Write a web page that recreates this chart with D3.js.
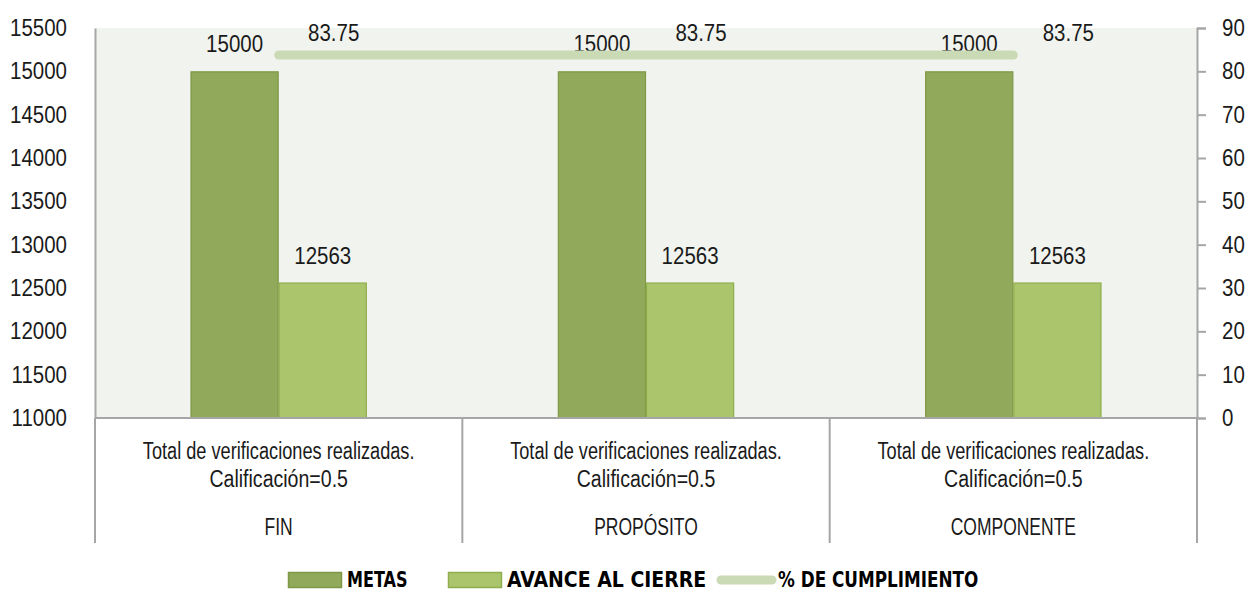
<!DOCTYPE html>
<html>
<head>
<meta charset="utf-8">
<script src="https://cdn.jsdelivr.net/npm/d3@7"></script>
<style>
  html, body { margin: 0; padding: 0; background: #ffffff; }
  svg { display: block; }
  .num { font-family: "Liberation Sans", Arial, sans-serif; font-size: 23px; fill: #1a1a1a; }
  .cat { font-family: "Liberation Sans", Arial, sans-serif; font-size: 23px; fill: #1a1a1a; }
  .leg { font-family: "DejaVu Sans Condensed", "DejaVu Sans", sans-serif; font-weight: bold; font-size: 21px; fill: #000; }
</style>
</head>
<body>
<svg id="chart" width="1248" height="591"></svg>
<script>
// ---- data ----
const groups = ["FIN", "PROPÓSITO", "COMPONENTE"];
const subLabelLine1 = ["Total de verificaciones realizadas.", "Total de verificaciones realizadas.", "Total de verificaciones realizadas."];
const subLabelLine2 = ["Calificación=0.5", "Calificación=0.5", "Calificación=0.5"];
const seriesNames = ["METAS", "AVANCE AL CIERRE", "% DE CUMPLIMIENTO"];
const metas = [15000, 15000, 15000];
const avance = [12563, 12563, 12563];
const cumplimiento = [83.75, 83.75, 83.75];
const leftTicks = [11000, 11500, 12000, 12500, 13000, 13500, 14000, 14500, 15000, 15500];
const rightTicks = [0, 10, 20, 30, 40, 50, 60, 70, 80, 90];

// ---- layout ----
const plot = { left: 95, right: 1197, top: 28, bottom: 418 };
const colors = { metas: "#91a95a", metasStroke: "#7e9845", avance: "#abc56c", avanceStroke: "#8fae4c", line: "#c9dab4", bg: "#f1f4ee", axis: "#a6a6a6" };

// horizontally condense text to mimic a condensed typeface
function condense(sel, sx) {
  sel.each(function (d) {
    const f = typeof sx === "function" ? sx(d) : sx;
    const L = this.getComputedTextLength();
    this.setAttribute("textLength", (L * f).toFixed(2));
    this.setAttribute("lengthAdjust", "spacingAndGlyphs");
  });
}

const svg = d3.select("#chart");

const x0 = d3.scaleBand().domain(groups).range([plot.left, plot.right]).paddingInner(0).paddingOuter(0);
const bw = x0.bandwidth();
const x1 = d3.scaleBand().domain(seriesNames.slice(0, 2)).range([bw * 0.26, bw * 0.74]).padding(0);
const yL = d3.scaleLinear().domain([11000, 15500]).range([plot.bottom, plot.top]);
const yR = d3.scaleLinear().domain([0, 90]).range([plot.bottom, plot.top]);

// plot background
svg.append("rect")
  .attr("x", plot.left).attr("y", plot.top)
  .attr("width", plot.right - plot.left).attr("height", plot.bottom - plot.top)
  .attr("fill", colors.bg);

// bars
const rows = groups.map((g, i) => ({ g, i, vals: [
  { s: seriesNames[0], v: metas[i], fill: colors.metas, stroke: colors.metasStroke },
  { s: seriesNames[1], v: avance[i], fill: colors.avance, stroke: colors.avanceStroke }
]}));

const gg = svg.append("g").selectAll("g").data(rows).join("g")
  .attr("transform", d => `translate(${x0(d.g)},0)`);

gg.selectAll("rect").data(d => d.vals).join("rect")
  .attr("x", d => x1(d.s) + 0.5)
  .attr("y", d => yL(d.v) + 0.5)
  .attr("width", x1.bandwidth() - 1)
  .attr("height", d => yL.range()[0] - yL(d.v) - 0.5)
  .attr("fill", d => d.fill)
  .attr("stroke", d => d.stroke)
  .attr("stroke-width", 1.2);

const valText = gg.selectAll("text.val").data(d => d.vals).join("text")
  .attr("class", "num val")
  .attr("x", d => x1(d.s) + x1.bandwidth() / 2)
  .attr("y", d => yL(d.v) - 19)
  .attr("text-anchor", "middle")
  .text(d => d.v);
condense(valText, 0.89);

// left axis
const axL = svg.append("g").attr("transform", `translate(${plot.left},0)`)
  .call(d3.axisLeft(yL).tickValues(leftTicks).tickSize(0).tickSizeOuter(0).tickPadding(28).tickFormat(d3.format("d")));
axL.select(".domain").attr("stroke", colors.axis).attr("stroke-width", 2);
axL.selectAll("text").attr("class", "num").attr("font-family", null).attr("font-size", null).attr("fill", null);
condense(axL.selectAll("text"), 0.89);

// right axis
const axR = svg.append("g").attr("transform", `translate(${plot.right},0)`)
  .call(d3.axisRight(yR).tickValues(rightTicks).tickSize(9).tickSizeOuter(9).tickPadding(16).tickFormat(d3.format("d")));
axR.select(".domain").attr("stroke", colors.axis).attr("stroke-width", 2);
axR.selectAll(".tick line").attr("stroke", colors.axis).attr("stroke-width", 2);
axR.selectAll("text").attr("class", "num").attr("font-family", null).attr("font-size", null).attr("fill", null);
condense(axR.selectAll("text"), 0.89);

// category axis
svg.append("line")
  .attr("x1", plot.left).attr("x2", plot.right)
  .attr("y1", plot.bottom).attr("y2", plot.bottom)
  .attr("stroke", colors.axis).attr("stroke-width", 2);

const sepBottom = 543;
const edges = groups.map(g => x0(g)).concat([x0(groups[groups.length - 1]) + bw]);
svg.append("g").selectAll("line").data(edges).join("line")
  .attr("x1", d => d).attr("x2", d => d)
  .attr("y1", plot.bottom).attr("y2", sepBottom)
  .attr("stroke", colors.axis).attr("stroke-width", 2);

const catG = svg.append("g").selectAll("g").data(groups).join("g")
  .attr("transform", d => `translate(${x0(d) + bw / 2},0)`);
const t1 = catG.append("text").attr("class", "cat").attr("text-anchor", "middle").attr("y", 459).text((d, i) => subLabelLine1[i]);
const t2 = catG.append("text").attr("class", "cat").attr("text-anchor", "middle").attr("y", 487).text((d, i) => subLabelLine2[i]);
const t3 = catG.append("text").attr("class", "cat").attr("text-anchor", "middle").attr("y", 535).text(d => d);
condense(t1, 0.79);
condense(t2, 0.85);
condense(t3, 0.76);

// line series
const linePts = groups.map((g, i) => ({ x: x0(g) + bw / 2, v: cumplimiento[i] }));
svg.append("path")
  .datum(linePts)
  .attr("d", d3.line().x(d => d.x).y(d => yR(d.v)))
  .attr("fill", "none")
  .attr("stroke", colors.line)
  .attr("stroke-width", 9)
  .attr("stroke-linecap", "round")
  .attr("stroke-linejoin", "round");

const lineLbl = svg.append("g").selectAll("text").data(linePts).join("text")
  .attr("class", "num")
  .attr("x", d => d.x + 55)
  .attr("y", d => yR(d.v) - 14)
  .attr("text-anchor", "middle")
  .text(d => d.v);
condense(lineLbl, 0.89);

// legend
const legY = 572;
const legItems = [
  { name: seriesNames[0], type: "rect", x: 288, w: 53, sx: 0.85, fill: colors.metas, stroke: colors.metasStroke },
  { name: seriesNames[1], type: "rect", x: 448, w: 53, sx: 1.0, fill: colors.avance, stroke: colors.avanceStroke },
  { name: seriesNames[2], type: "line", x: 721, w: 51, sx: 0.89, fill: colors.line }
];
const lg = svg.append("g").selectAll("g").data(legItems).join("g")
  .attr("transform", d => `translate(${d.x},${legY})`);
lg.filter(d => d.type === "rect").append("rect")
  .attr("x", 0.5).attr("y", 0.5).attr("width", d => d.w).attr("height", 15)
  .attr("fill", d => d.fill).attr("stroke", d => d.stroke).attr("stroke-width", 1.5);
lg.filter(d => d.type === "line").append("line")
  .attr("x1", 0).attr("x2", d => d.w).attr("y1", 8).attr("y2", 8)
  .attr("stroke", d => d.fill).attr("stroke-width", 9).attr("stroke-linecap", "round");
const legText = lg.append("text").attr("class", "leg")
  .attr("x", d => d.w + 6)
  .attr("y", 15)
  .text(d => d.name);
condense(legText, d => d.sx);
</script>
</body>
</html>
